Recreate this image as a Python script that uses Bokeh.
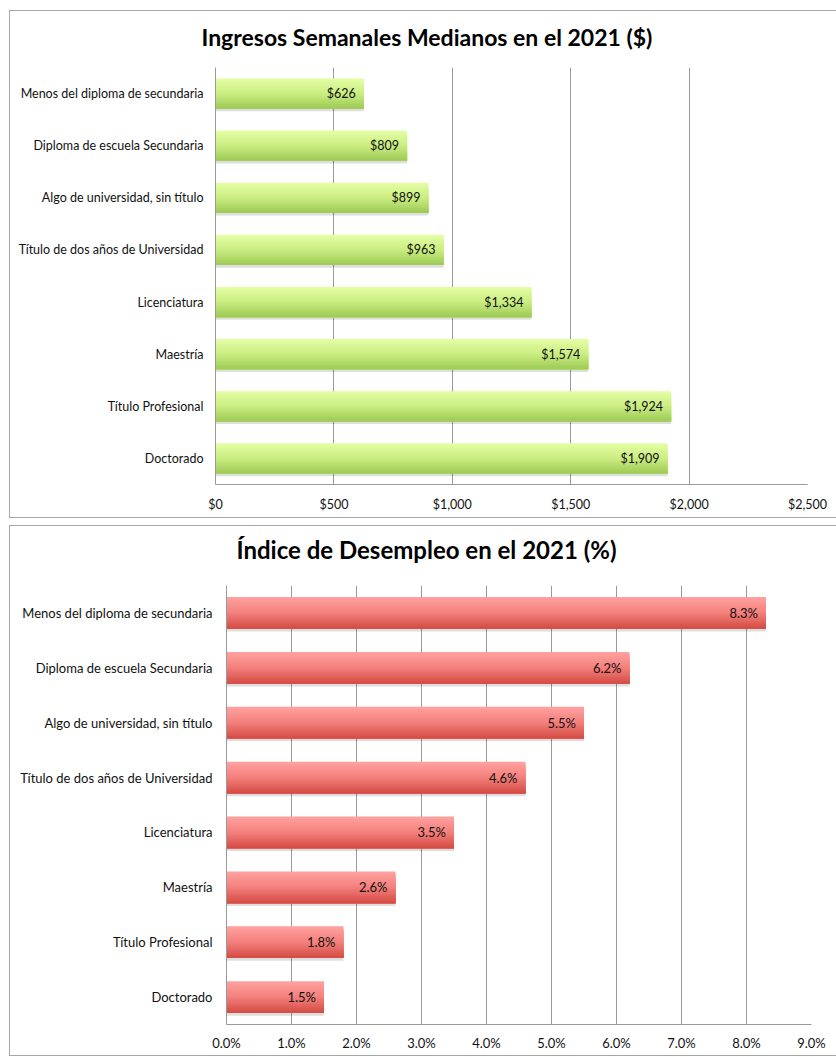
from bokeh.plotting import figure
from bokeh.models import FactorRange, Range1d, FixedTicker, ColumnDataSource
from bokeh.transform import dodge
from bokeh.embed import file_html
from bokeh.resources import INLINE
from bokeh.core.properties import value

categories = [
    "Menos del diploma de secundaria",
    "Diploma de escuela Secundaria",
    "Algo de universidad, sin título",
    "Título de dos años de Universidad",
    "Licenciatura",
    "Maestría",
    "Título Profesional",
    "Doctorado",
]
earnings = [626, 809, 899, 963, 1334, 1574, 1924, 1909]
earnings_labels = ["$626", "$809", "$899", "$963", "$1,334", "$1,574", "$1,924", "$1,909"]
unemployment = [8.3, 6.2, 5.5, 4.6, 3.5, 2.6, 1.8, 1.5]
unemployment_labels = ["8.3%", "6.2%", "5.5%", "4.6%", "3.5%", "2.6%", "1.8%", "1.5%"]
earn_ticks = [0, 500, 1000, 1500, 2000, 2500]
earn_tick_labels = ["$0", "$500", "$1,000", "$1,500", "$2,000", "$2,500"]
unemp_ticks = [0, 1, 2, 3, 4, 5, 6, 7, 8, 9]
unemp_tick_labels = ["0.0%", "1.0%", "2.0%", "3.0%", "4.0%", "5.0%", "6.0%", "7.0%", "8.0%", "9.0%"]

FONT = "Lato"
GRID = "#9a9a9a"
BORDER = "#a6a6a6"


def lerp_color(c1, c2, t):
    r = [round(a + (b - a) * t) for a, b in zip(c1, c2)]
    return "#%02x%02x%02x" % tuple(r)


def make_chart(title, vals, labs, ticks, tick_labels, xmax, height, margin, borders,
               ctop, cmid, cbot, title_offset, title_pad, title_fs, fs,
               cat_standoff, tick_standoff):
    left, right, top, bottom = borders
    p = figure(
        width=827, height=height,
        y_range=FactorRange(factors=categories[::-1]),
        x_range=Range1d(0, xmax),
        output_backend="svg", toolbar_location=None,
        min_border_left=left, min_border_right=right,
        min_border_top=top, min_border_bottom=bottom,
        margin=margin,
        styles={"box-shadow": f"inset 1px 1px 0 {BORDER}, inset 0 -1px 0 {BORDER}"},
    )
    p.outline_line_color = None
    p.background_fill_color = "white"
    p.border_fill_color = None

    src = ColumnDataSource(dict(cat=categories, val=vals, lab=labs))

    bar_h = 0.58
    # soft shadow under the bars
    p.hbar(y=dodge("cat", -0.05, range=p.y_range), right="val", left=0,
           height=bar_h, source=src, fill_color="#000000", fill_alpha=0.13,
           line_color=None)
    # vertical gradient: layered bars, each one starting a bit lower
    n = 14
    sh = bar_h / n
    for k in range(n):
        t = k / (n - 1)
        if t < 0.5:
            col = lerp_color(ctop, cmid, t / 0.5)
        else:
            col = lerp_color(cmid, cbot, (t - 0.5) / 0.5)
        top_off = bar_h / 2 - k * sh
        bot_off = -bar_h / 2
        p.hbar(y=dodge("cat", (top_off + bot_off) / 2, range=p.y_range),
               right="val", left=0, height=top_off - bot_off, source=src,
               fill_color=col, line_color=None)

    p.text(x="val", y="cat", text="lab", source=src, x_offset=-8,
           text_align="right", text_baseline="middle",
           text_font=value(FONT), text_font_size=fs, text_color="#111111")

    p.title.text = title
    p.title.align = "left"
    p.title.vertical_align = "top"
    p.title.offset = title_offset
    p.title.standoff = 0
    p.title.padding = (0, 0, 0, title_pad)
    p.title.text_font = FONT
    p.title.text_font_size = title_fs
    p.title.text_font_style = "bold"
    p.title.text_color = "#000000"

    for ax in (p.xaxis, p.yaxis):
        ax.major_tick_line_color = None
        ax.major_tick_out = 0
        ax.minor_tick_line_color = None
        ax.axis_line_color = GRID
        ax.major_label_text_font = FONT
        ax.major_label_text_font_size = fs
        ax.major_label_text_color = "#111111"
    p.yaxis.major_label_standoff = cat_standoff
    p.xaxis.ticker = FixedTicker(ticks=ticks)
    p.xaxis.major_label_overrides = {t: l for t, l in zip(ticks, tick_labels)}
    p.xaxis.major_label_standoff = tick_standoff

    p.xgrid.ticker = FixedTicker(ticks=ticks)
    p.xgrid.grid_line_color = GRID
    p.ygrid.grid_line_color = None
    return p


p1 = make_chart("Ingresos Semanales Medianos en el 2021 ($)", earnings, earnings_labels,
                earn_ticks, earn_tick_labels, 2500, 508, (10, 0, 0, 9), (206, 29, 57, 34),
                (226, 253, 162), (202, 237, 130), (160, 204, 88), -14, 15, "23px",
                "12.5px", 12, 12)
p2 = make_chart("Índice de Desempleo en el 2021 (%)", unemployment, unemployment_labels,
                unemp_ticks, unemp_tick_labels, 9, 531, (7, 0, 0, 9), (217, 25, 60, 32),
                (255, 160, 158), (243, 128, 124), (214, 78, 70), 10, 20, "24px",
                "13px", 14, 10)

open("out.html", "w").write(file_html([p1, p2], INLINE))
